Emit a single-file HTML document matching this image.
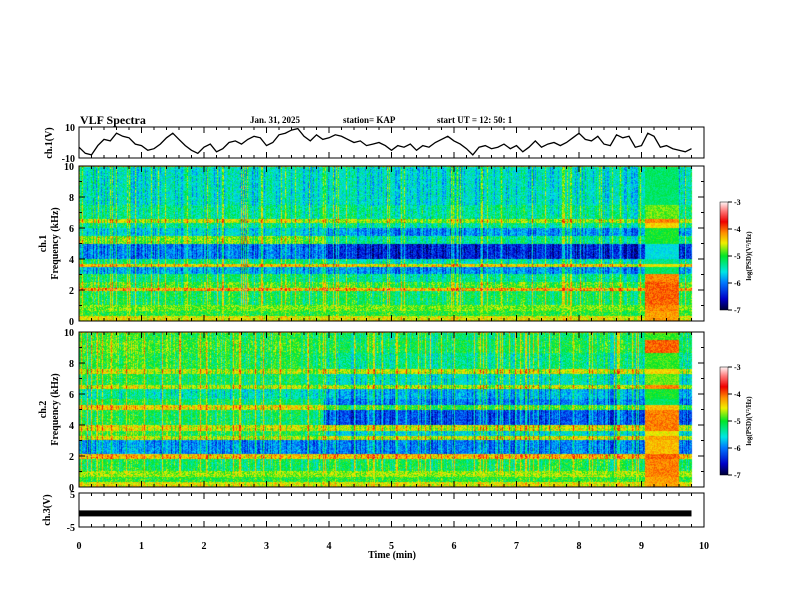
<!DOCTYPE html>
<html><head><meta charset="utf-8"><style>
html,body{margin:0;padding:0;background:#fff;}
#wrap{position:relative;width:792px;height:612px;overflow:hidden;font-family:"Liberation Serif",serif;font-weight:bold;}
svg{position:absolute;left:0;top:0;}
canvas{position:absolute;}
</style></head><body>
<div id="wrap">
<canvas id="spec1" width="614" height="155" style="left:79px;top:166px"></canvas>
<canvas id="spec2" width="614" height="155" style="left:79px;top:332px"></canvas>
<canvas id="cb1" width="8" height="108" style="left:720px;top:202px"></canvas>
<canvas id="cb2" width="8" height="108" style="left:720px;top:367px"></canvas>
<svg id="svg" width="792" height="612"></svg>
</div>
<script>
// ---- data ----
const ch1Times = [0,0.1,0.2,0.3,0.4,0.5,0.6,0.7,0.8,0.9,1.0,1.1,1.2,1.3,1.4,1.5,1.6,1.7,1.8,1.9,2.0,2.1,2.2,2.3,2.4,2.5,2.6,2.7,2.8,2.9,3.0,3.1,3.2,3.3,3.4,3.5,3.6,3.7,3.8,3.9,4.0,4.1,4.2,4.3,4.4,4.5,4.6,4.7,4.8,4.9,5.0,5.1,5.2,5.3,5.4,5.5,5.6,5.7,5.8,5.9,6.0,6.1,6.2,6.3,6.4,6.5,6.6,6.7,6.8,6.9,7.0,7.1,7.2,7.3,7.4,7.5,7.6,7.7,7.8,7.9,8.0,8.1,8.2,8.3,8.4,8.5,8.6,8.7,8.8,8.9,9.0,9.1,9.2,9.3,9.4,9.5,9.6,9.7,9.8];
const ch1Values = [-3,-7,-8,-2,2,1,6,4,3,-1,-2,-5,-4,-1,3,6,2,-2,-5,-7,-3,-1,-6,-4,0,1,-1,2,4,3,-2,0,5,6,8,9,4,1,5,2,3,5,4,2,0,1,-2,-1,0,-2,-5,-2,-3,-1,-5,-2,-3,0,2,4,1,-1,-4,-8,-3,-2,-4,-3,-1,-4,-2,-6,-3,1,-3,-1,0,-2,0,3,6,2,1,4,-1,-2,5,3,4,-3,-2,6,4,-3,-2,-4,-5,-6,-4];
const ch3Level = -1;
const xTicks = [0,1,2,3,4,5,6,7,8,9,10];
const fTicks = [0,2,4,6,8,10];
const cbTicks = [-3,-4,-5,-6,-7];
const bandLo1 = [0,0.3,0.6,1.0,1.9,2.1,2.5,3.0,3.5,3.7,4.0,5.0,5.5,6.0,6.3,6.6,7.5];
const bandHi1 = [0.3,0.6,1.0,1.9,2.1,2.5,3.0,3.5,3.7,4.0,5.0,5.5,6.0,6.3,6.6,7.5,10];
const lvlA1 = [-4.5,-5.0,-4.8,-5.1,-4.2,-4.9,-5.2,-5.8,-4.4,-5.2,-6.0,-4.8,-5.6,-5.3,-4.6,-5.3,-5.5];
const lvlB1 = [-4.5,-5.0,-4.8,-5.1,-4.2,-4.9,-5.3,-5.9,-4.4,-5.4,-6.4,-5.3,-5.9,-5.3,-4.7,-5.3,-5.5];
const lvlC1 = [-4.2,-4.2,-4.1,-4.0,-4.0,-4.0,-4.1,-5.2,-4.5,-5.3,-5.6,-5.0,-5.0,-4.4,-4.1,-4.8,-5.2];
const bandLo2 = [0,0.3,0.6,1.0,1.8,2.1,3.0,3.3,3.6,4.0,5.0,5.3,5.7,6.3,6.6,7.3,7.6,8.7,9.5];
const bandHi2 = [0.3,0.6,1.0,1.8,2.1,3.0,3.3,3.6,4.0,5.0,5.3,5.7,6.3,6.6,7.3,7.6,8.7,9.5,10];
const lvlA2 = [-4.5,-5.0,-4.7,-5.1,-4.3,-5.9,-4.6,-5.0,-4.5,-5.1,-4.4,-5.1,-5.4,-4.6,-5.1,-4.6,-5.0,-4.9,-5.0];
const lvlB2 = [-4.5,-5.0,-4.7,-5.1,-4.3,-6.0,-4.6,-5.6,-4.6,-6.2,-5.0,-6.0,-5.8,-4.7,-5.5,-4.6,-5.3,-5.1,-5.2];
const lvlC2 = [-4.2,-4.2,-4.1,-4.1,-4.0,-4.3,-4.2,-4.5,-4.1,-4.1,-4.3,-5.2,-5.0,-4.1,-4.8,-4.4,-4.9,-4.0,-4.9];
const switch1 = 3.9, switch2 = 3.9, burstStart = 9.05, burstEnd = 9.6, dataEnd = 9.8;

// ---- geometry ----
const X0=79, X1=704;
const xs = t => X0 + (X1-X0)*t/10;
const svg = document.getElementById('svg');
const NS='http://www.w3.org/2000/svg';
function mk(tag, attrs, parent){const e=document.createElementNS(NS,tag);for(const k in attrs)e.setAttribute(k,attrs[k]);(parent||svg).appendChild(e);return e;}
function txt(x,y,s,size,anchor,name,rot){const e=mk('text',{x:x,y:y,'font-size':size,'text-anchor':anchor||'start','font-family':'Liberation Serif, serif','font-weight':'bold'});if(rot)e.setAttribute('transform','rotate(-90 '+x+' '+y+')');e.textContent=s;return e;}

const cstops=[[0,[0,0,60]],[0.1,[0,0,200]],[0.25,[0,120,255]],[0.35,[0,230,230]],[0.5,[0,230,40]],[0.62,[240,240,0]],[0.72,[255,140,0]],[0.82,[240,0,0]],[0.92,[255,120,120]],[1,[255,240,240]]];
function cmap(v){v=Math.max(0,Math.min(1,v));for(let i=1;i<cstops.length;i++){if(v<=cstops[i][0]){const a=cstops[i-1],b=cstops[i];const f=(v-a[0])/(b[0]-a[0]);return [0,1,2].map(k=>Math.round(a[1][k]+(b[1][k]-a[1][k])*f));}}return cstops[cstops.length-1][1];}
function hash(a,b){let h=(a*374761393+b*668265263)^0x5bd1e995;h=(h^(h>>>13))*1274126177;h=h^(h>>>16);return ((h>>>0)%10000)/10000;}

function drawSpec(id,lo,hi,A,B,C,sw,seed){
  const cv=document.getElementById(id),ctx=cv.getContext('2d');const W=cv.width,H=cv.height;
  const img=ctx.createImageData(W,H);
  for(let x=0;x<W;x++){
    const t=x/(X1-X0)*10;
    const colH=hash(x,seed);const streak=colH>0.9?0.7:(colH>0.75?0.25:(colH<0.2?-0.35:0));
    for(let y=0;y<H;y++){
      const f=(H-1-y)/(H-1)*10;const i=4*(y*W+x);
      if(t>dataEnd){img.data[i]=255;img.data[i+1]=255;img.data[i+2]=255;img.data[i+3]=255;continue;}
      let b=0;for(let k=0;k<lo.length;k++){if(f>=lo[k]&&f<hi[k]){b=k;break;}}
      const burst=(t>=burstStart&&t<burstEnd);
      let L=burst?C[b]:(t<sw?A[b]:B[b]);
      const n=(hash(x*7+y,y*13+seed)-0.5)*(burst?0.35:0.65);
      L+=n+(burst?0:streak*(f>1?1:0.3));
      const c=cmap((L+7)/4);
      img.data[i]=c[0];img.data[i+1]=c[1];img.data[i+2]=c[2];img.data[i+3]=255;
    }
  }
  ctx.putImageData(img,0,0);
}
drawSpec('spec1',bandLo1,bandHi1,lvlA1,lvlB1,lvlC1,switch1,11);
drawSpec('spec2',bandLo2,bandHi2,lvlA2,lvlB2,lvlC2,switch2,29);
['cb1','cb2'].forEach(id=>{const ctx=document.getElementById(id).getContext('2d');for(let y=0;y<108;y++){const c=cmap(1-y/107);ctx.fillStyle='rgb('+c+')';ctx.fillRect(0,y,8,1);}});

const panels=[[127,158,'ch1-panel'],[166,321,'spec1-panel'],[332,487,'spec2-panel'],[493,527,'ch3-panel']];
panels.forEach(p=>{
  const r=mk('rect',{x:X0,y:p[0],width:X1-X0,height:p[1]-p[0],fill:'none',stroke:'#000','stroke-width':1});
  
  for(let t=0;t<=10.001;t+=0.2){const major=Math.abs(t-Math.round(t))<0.01;const L=major?6:3;const x=xs(t);
    mk('line',{x1:x,x2:x,y1:p[0],y2:p[0]+L,stroke:'#000'});mk('line',{x1:x,x2:x,y1:p[1],y2:p[1]-L,stroke:'#000'});}
});
const ys1=v=>142.5-v/10*15.5;
let d='';ch1Times.forEach((t,i)=>{d+=(i?'L':'M')+xs(t).toFixed(1)+' '+ys1(ch1Values[i]).toFixed(1);});
const wf=mk('path',{d:d,fill:'none',stroke:'#000','stroke-width':1.3});
txt(75,131,'10',10,'end','ch1-ytick-10');txt(75,162,'-10',10,'end','ch1-ytick-neg10');
txt(52,143,'ch.1(V)',10,'middle','ch1-ylabel',true);
const ys3=v=>510-v/5*17;
const c3=mk('rect',{x:X0,y:ys3(ch3Level)-3,width:xs(dataEnd)-X0,height:6,fill:'#000'});
txt(75,498,'5',10,'end','ch3-ytick-5');txt(75,531,'-5',10,'end','ch3-ytick-neg5');
txt(50,510,'ch.3(V)',10,'middle','ch3-ylabel',true);
[[166,321,'1'],[332,487,'2']].forEach(s=>{
  const fy=f=>s[1]-(s[1]-s[0])*f/10;
  fTicks.forEach(f=>txt(74,fy(f)+4,String(f),10,'end','spec'+s[2]+'-ytick-'+f));
  for(let f=0;f<=10;f+=1){const L=f%2==0?6:3;mk('line',{x1:X0,x2:X0+L,y1:fy(f),y2:fy(f),stroke:'#000'});mk('line',{x1:X1,x2:X1-L,y1:fy(f),y2:fy(f),stroke:'#000'});}
  txt(46,(s[0]+s[1])/2,'ch.'+s[2],10,'middle','spec'+s[2]+'-ylabel-ch',true);
  txt(58,(s[0]+s[1])/2,'Frequency (kHz)',10,'middle','spec'+s[2]+'-ylabel',true);
});
[[202,'1'],[367,'2']].forEach(c=>{
  mk('rect',{x:720,y:c[0],width:8,height:108,fill:'none',stroke:'#000','stroke-width':0.5});
  cbTicks.forEach((v,i)=>{const y=c[0]+i*27;mk('line',{x1:728,x2:732,y1:y,y2:y,stroke:'#000'});txt(734,y+3,String(v),8,'start','cb'+c[1]+'-tick-'+v);});
  txt(751,c[0]+54,'log(PSD)(V²/Hz)',7,'middle','cb'+c[1]+'-label',true);
});
xTicks.forEach(t=>txt(xs(t),549,String(t),10,'middle','xtick-'+t));
txt(392,558,'Time (min)',10,'middle','x-axis-title');
txt(80,124,'VLF Spectra',12,'start','title');
txt(250,123,'Jan. 31, 2025',9,'start','date-label');
txt(343,123,'station= KAP',9,'start','station-label');
txt(437,123,'start UT =  12: 50: 1',9,'start','start-time-label');
</script>
</body></html>
